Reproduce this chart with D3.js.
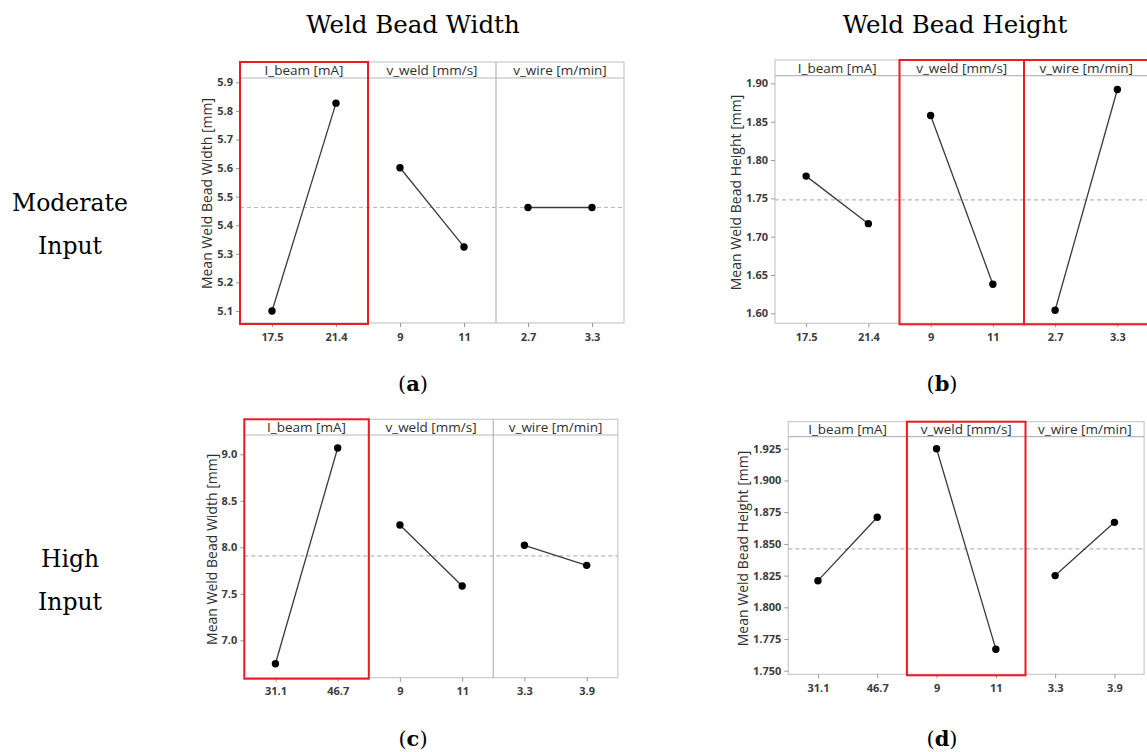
<!DOCTYPE html>
<html><head><meta charset="utf-8">
<script src="https://cdn.jsdelivr.net/npm/d3@7"></script>
<style>body{margin:0;background:#fff}svg{display:block}</style>
</head><body>
<svg id="c" width="1147" height="752"></svg>
<script>
// ---- data ----
const factors = ["I_beam [mA]", "v_weld [mm/s]", "v_wire [m/min]"];
const colTitles = ["Weld Bead Width", "Weld Bead Height"];
const rowTitles = [["Moderate", "Input"], ["High", "Input"]];
const captions = ["a", "b", "c", "d"];

const levelsA = [["17.5", "21.4"], ["9", "11"], ["2.7", "3.3"]];
const meansA = [[5.100, 5.827], [5.601, 5.324], [5.462, 5.462]];
const grandA = 5.462;
const ticksA = [5.1, 5.2, 5.3, 5.4, 5.5, 5.6, 5.7, 5.8, 5.9];

const levelsB = [["17.5", "21.4"], ["9", "11"], ["2.7", "3.3"]];
const meansB = [[1.779, 1.717], [1.858, 1.638], [1.604, 1.892]];
const grandB = 1.748;
const ticksB = [1.60, 1.65, 1.70, 1.75, 1.80, 1.85, 1.90];

const levelsC = [["31.1", "46.7"], ["9", "11"], ["3.3", "3.9"]];
const meansC = [[6.748, 9.068], [8.240, 7.584], [8.022, 7.806]];
const grandC = 7.908;
const ticksC = [7.0, 7.5, 8.0, 8.5, 9.0];

const levelsD = [["31.1", "46.7"], ["9", "11"], ["3.3", "3.9"]];
const meansD = [[1.821, 1.871], [1.925, 1.767], [1.825, 1.867]];
const grandD = 1.846;
const ticksD = [1.750, 1.775, 1.800, 1.825, 1.850, 1.875, 1.900, 1.925];

const yTitles = ["Mean Weld Bead Width [mm]", "Mean Weld Bead Height [mm]", "Mean Weld Bead Width [mm]", "Mean Weld Bead Height [mm]"];
const highlights = [[0], [1, 2], [0], [1]];

// ---- layout ----
const charts = [
  {levels: levelsA, means: meansA, grand: grandA, ticks: ticksA, fmt: ".1f", left: 240, top: 62, head: 78, bottom: 323, w: 128, dom: [5.058, 5.915]},
  {levels: levelsB, means: meansB, grand: grandB, ticks: ticksB, fmt: ".2f", left: 775, top: 60, head: 75.7, bottom: 323.3, w: 124.5, dom: [1.587, 1.910]},
  {levels: levelsC, means: meansC, grand: grandC, ticks: ticksC, fmt: ".1f", left: 244.3, top: 419.3, head: 435, bottom: 677.7, w: 124.5, dom: [6.598, 9.2075]},
  {levels: levelsD, means: meansD, grand: grandD, ticks: ticksD, fmt: ".3f", left: 788.3, top: 421.7, head: 436.7, bottom: 674.3, w: 118.6, dom: [1.7472, 1.9345]}
];

const svg = d3.select("#c");
const sansFont = "'Open Sans', 'Noto Sans', sans-serif";
const serifFont = "'DejaVu Serif', serif";

charts.forEach((c, ci) => {
  const g = svg.append("g");
  const right = c.left + 3 * c.w;
  const y = d3.scaleLinear().domain(c.dom).range([c.bottom, c.head]);

  // frame
  g.append("rect").attr("x", c.left).attr("y", c.top).attr("width", right - c.left).attr("height", c.bottom - c.top)
    .attr("fill", "#fff").attr("stroke", "#c9c9c9").attr("stroke-width", 1.2);
  g.append("line").attr("x1", c.left).attr("x2", right).attr("y1", c.head).attr("y2", c.head)
    .attr("stroke", "#b8b8b8").attr("stroke-width", 1.2);
  for (let k = 1; k < 3; k++) {
    g.append("line").attr("x1", c.left + k * c.w).attr("x2", c.left + k * c.w).attr("y1", c.top).attr("y2", c.bottom)
      .attr("stroke", "#b5b5b5").attr("stroke-width", 1.2);
  }

  // grand mean dashed line
  g.append("line").attr("x1", c.left).attr("x2", right).attr("y1", y(c.grand)).attr("y2", y(c.grand))
    .attr("stroke", "#b8b8b8").attr("stroke-width", 1.2).attr("stroke-dasharray", "4,3");

  // y axis
  const ya = g.append("g").attr("transform", `translate(${c.left},0)`)
    .call(d3.axisLeft(y).tickValues(c.ticks).tickSize(4).tickPadding(3).tickFormat(d3.format(c.fmt)));
  ya.select(".domain").remove();
  ya.selectAll(".tick line").attr("stroke", "#999");
  ya.selectAll(".tick text").attr("fill", "#3c3c3c").style("font-family", sansFont).style("font-size", "11px").style("font-weight", 700);
  let maxW = 0;
  ya.selectAll(".tick text").each(function () { maxW = Math.max(maxW, this.getBBox().width); });

  // y title
  g.append("text").attr("transform", `translate(${c.left - maxW - 12},${(c.head + c.bottom) / 2 - 7}) rotate(-90)`)
    .attr("text-anchor", "middle").attr("fill", "#2f2f2f").style("font-family", sansFont).style("font-size", "14px")
    .text(yTitles[ci]);

  factors.forEach((f, fi) => {
    const x0 = c.left + fi * c.w;
    const x = d3.scalePoint().domain(c.levels[fi]).range([x0, x0 + c.w]).padding(0.5);
    // header
    g.append("text").attr("x", x0 + c.w / 2).attr("y", c.head - 3)
      .attr("text-anchor", "middle").attr("fill", "#2f2f2f").style("font-family", sansFont).style("font-size", "13.5px")
      .text(f);
    // x axis
    const xa = g.append("g").attr("transform", `translate(0,${c.bottom})`)
      .call(d3.axisBottom(x).tickSize(4).tickPadding(6));
    xa.select(".domain").remove();
    xa.selectAll(".tick line").attr("stroke", "#999");
    xa.selectAll(".tick text").attr("fill", "#3c3c3c").style("font-family", sansFont).style("font-size", "11px").style("font-weight", 700);
    // line + points
    const pts = c.levels[fi].map((l, li) => [x(l), y(c.means[fi][li])]);
    g.append("path").attr("d", d3.line()(pts)).attr("fill", "none").attr("stroke", "#3a3a3a").attr("stroke-width", 1.3);
    g.selectAll(null).data(pts).enter().append("circle")
      .attr("cx", d => d[0]).attr("cy", d => d[1]).attr("r", 3.7).attr("fill", "#000");
  });

  // red highlight boxes
  highlights[ci].forEach(k => {
    g.append("rect").attr("x", c.left + k * c.w).attr("y", c.top).attr("width", c.w).attr("height", c.bottom - c.top + 1)
      .attr("fill", "none").attr("stroke", "#ec1c24").attr("stroke-width", 2);
  });

  // caption
  const cx = ci % 2 === 0 ? 413 : 942;
  const cy = ci < 2 ? 391 : 746;
  const t = svg.append("text").attr("x", cx).attr("y", cy).attr("text-anchor", "middle").attr("fill", "#000")
    .style("font-family", serifFont).style("font-size", "21px");
  t.append("tspan").text("(");
  t.append("tspan").style("font-weight", "bold").text(captions[ci]);
  t.append("tspan").text(")");
});

// column titles
[413, 955].forEach((x, i) => {
  svg.append("text").attr("x", x).attr("y", 33).attr("text-anchor", "middle").attr("fill", "#000")
    .style("font-family", serifFont).style("font-size", "24.5px").text(colTitles[i]);
});
// row titles
[[211, 254], [567, 610]].forEach((ys, i) => {
  ys.forEach((yy, j) => {
    svg.append("text").attr("x", 70).attr("y", yy).attr("text-anchor", "middle").attr("fill", "#000")
      .style("font-family", serifFont).style("font-size", "23.5px").text(rowTitles[i][j]);
  });
});
</script>
</body></html>
